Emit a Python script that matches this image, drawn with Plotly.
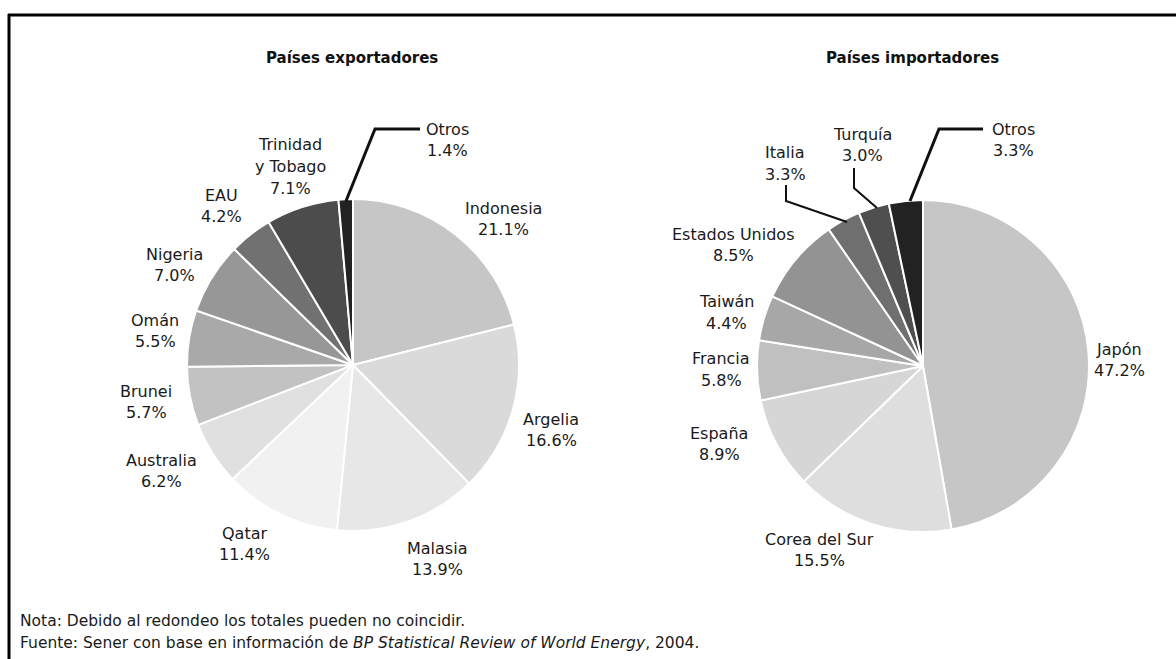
import plotly.graph_objects as go

W, H = 1176, 659

# ---- data ----
exp_labels = ["Indonesia", "Argelia", "Malasia", "Qatar", "Australia", "Brunei",
              "Omán", "Nigeria", "EAU", "Trinidad y Tobago", "Otros"]
exp_values = [21.1, 16.6, 13.9, 11.4, 6.2, 5.7, 5.5, 7.0, 4.2, 7.1, 1.4]
exp_colors = ["#c6c6c6", "#dadada", "#e7e7e7", "#f1f1f1", "#e0e0e0", "#c2c2c2",
              "#a9a9a9", "#979797", "#717171", "#4c4c4c", "#222222"]

imp_labels = ["Japón", "Corea del Sur", "España", "Francia", "Taiwán",
              "Estados Unidos", "Italia", "Turquía", "Otros"]
imp_values = [47.2, 15.5, 8.9, 5.8, 4.4, 8.5, 3.3, 3.0, 3.3]
imp_colors = ["#c6c6c6", "#dedede", "#d6d6d6", "#c0c0c0", "#a7a7a7",
              "#939393", "#6f6f6f", "#4f4f4f", "#222222"]

# label text lines (display names) and their placement (pixels, centre of first line)
exp_text = [["Indonesia"], ["Argelia"], ["Malasia"], ["Qatar"], ["Australia"], ["Brunei"],
            ["Omán"], ["Nigeria"], ["EAU"], ["Trinidad", "y Tobago"], ["Otros"]]
exp_pos = [(503, 208), (551, 419), (437, 548), (244, 533), (161, 460), (146, 391),
           (155, 320), (174, 254), (222, 195), (290, 145), (447, 129)]
imp_text = [["Japón"], ["Corea del Sur"], ["España"], ["Francia"], ["Taiwán"],
            ["Estados Unidos"], ["Italia"], ["Turquía"], ["Otros"]]
imp_pos = [(1119, 349), (819, 539), (719, 433), (721, 359), (726, 302),
           (733, 234), (785, 153), (862, 134), (1013, 129)]

FONT = "DejaVu Sans"


def px(x):
    return x / W


def py(y):
    return 1 - y / H


def pie_domain(cx, cy, r):
    return dict(x=[px(cx - r), px(cx + r)], y=[py(cy + r), py(cy - r)])


fig = go.Figure()
fig.add_trace(go.Pie(labels=exp_labels, values=exp_values, sort=False,
                     direction="clockwise", rotation=0, textinfo="none",
                     hoverinfo="skip", showlegend=False,
                     marker=dict(colors=exp_colors, line=dict(color="white", width=2)),
                     domain=pie_domain(353, 365, 166)))
fig.add_trace(go.Pie(labels=imp_labels, values=imp_values, sort=False,
                     direction="clockwise", rotation=0, textinfo="none",
                     hoverinfo="skip", showlegend=False,
                     marker=dict(colors=imp_colors, line=dict(color="white", width=2)),
                     domain=pie_domain(923, 366, 166)))

annotations = []
LINE_H = 21.5


def add_label(lines, x, y):
    for i, t in enumerate(lines):
        annotations.append(dict(x=px(x), y=py(y + i * LINE_H), xref="paper", yref="paper",
                                text=t, showarrow=False, xanchor="center", yanchor="middle",
                                font=dict(family=FONT, size=16, color="#1a1a1a")))


for lines, v, (x, y) in zip(exp_text, exp_values, exp_pos):
    add_label(lines + [f"{v:.1f}%"], x, y)
for lines, v, (x, y) in zip(imp_text, imp_values, imp_pos):
    add_label(lines + [f"{v:.1f}%"], x, y)

# titles
for t, x in [("Países exportadores", 352), ("Países importadores", 912)]:
    annotations.append(dict(x=px(x), y=py(58), xref="paper", yref="paper", text=f"<b>{t}</b>",
                            showarrow=False, xanchor="center", yanchor="middle",
                            font=dict(family=FONT, size=15, color="#111111")))

# notes
notes = ["Nota: Debido al redondeo los totales pueden no coincidir.",
         "Fuente: Sener con base en información de <i>BP Statistical Review of World Energy</i>, 2004."]
for i, t in enumerate(notes):
    annotations.append(dict(x=px(18), y=py(621 + i * 22), xref="paper", yref="paper", text=t,
                            showarrow=False, xanchor="left", yanchor="middle",
                            font=dict(family=FONT, size=15.5, color="#1a1a1a")))


def path(points):
    return "M " + " L ".join(f"{px(a)},{py(b)}" for a, b in points)


shapes = [
    dict(type="line", xref="paper", yref="paper", x0=px(8), y0=py(15), x1=1, y1=py(15),
         line=dict(color="black", width=3)),
    dict(type="line", xref="paper", yref="paper", x0=px(9), y0=py(14), x1=px(9), y1=0,
         line=dict(color="black", width=3)),
    # leader lines
    dict(type="path", xref="paper", yref="paper", path=path([(346, 201), (375, 129), (420, 129)]),
         line=dict(color="#111111", width=3)),
    dict(type="path", xref="paper", yref="paper", path=path([(910, 201), (939, 129), (983, 129)]),
         line=dict(color="#111111", width=3)),
    dict(type="path", xref="paper", yref="paper", path=path([(786, 185), (786, 201), (847, 222)]),
         line=dict(color="#111111", width=2)),
    dict(type="path", xref="paper", yref="paper", path=path([(854, 168), (854, 188), (877, 208)]),
         line=dict(color="#111111", width=2)),
]

fig.update_layout(width=W, height=H, margin=dict(l=0, r=0, t=0, b=0),
                  paper_bgcolor="white", plot_bgcolor="white",
                  annotations=annotations, shapes=shapes, showlegend=False)

fig.write_html("out.html", config={"displayModeBar": False},
               post_script="document.body.style.margin='0';document.body.style.overflow='hidden';")
